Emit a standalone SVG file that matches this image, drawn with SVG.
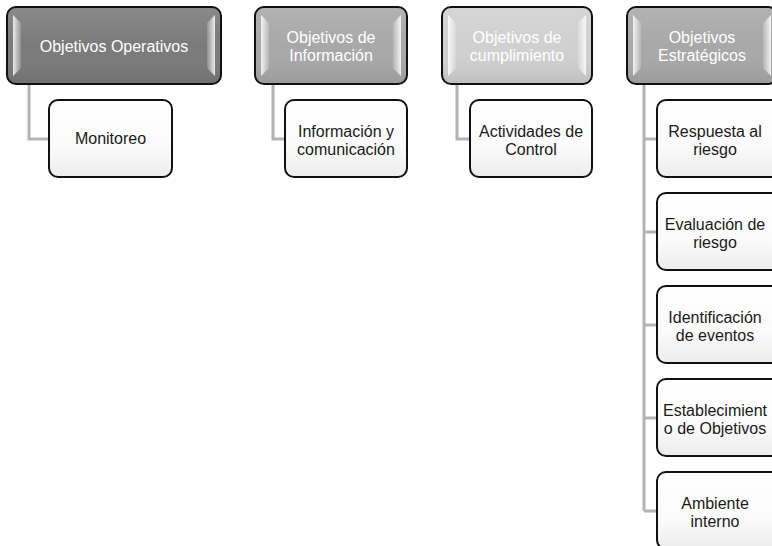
<svg xmlns="http://www.w3.org/2000/svg" width="772" height="546" viewBox="0 0 772 546">
<defs>
<linearGradient id="gTop" x1="0" y1="0" x2="0" y2="1">
<stop offset="0" stop-color="#fff" stop-opacity="0.12"/>
<stop offset="0.5" stop-color="#fff" stop-opacity="0"/>
<stop offset="1" stop-color="#000" stop-opacity="0.08"/>
</linearGradient>
<linearGradient id="gBevL" x1="0" y1="0" x2="1" y2="0">
<stop offset="0" stop-color="#fff" stop-opacity="0.85"/>
<stop offset="1" stop-color="#fff" stop-opacity="0.15"/>
</linearGradient>
<linearGradient id="gBevR" x1="1" y1="0" x2="0" y2="0">
<stop offset="0" stop-color="#fff" stop-opacity="0.85"/>
<stop offset="1" stop-color="#fff" stop-opacity="0.15"/>
</linearGradient>
<linearGradient id="gChild" x1="0" y1="0" x2="0" y2="1">
<stop offset="0" stop-color="#ffffff"/>
<stop offset="0.6" stop-color="#fbfbfb"/>
<stop offset="1" stop-color="#ececec"/>
</linearGradient>
</defs>
<style>
.top{stroke:#111;stroke-width:2}
.child{fill:url(#gChild);stroke:#111;stroke-width:2}
.tt{font-family:"Liberation Sans",Arial,sans-serif;font-size:16px;fill:#fff;text-anchor:middle}
.ct{font-family:"Liberation Sans",Arial,sans-serif;font-size:16px;fill:#1a1a1a;text-anchor:middle}
.con{fill:none;stroke:#b3b3b3;stroke-width:3}
</style>
<g id="connectors">
<path class="con" d="M29 84 V139 H49"/>
<path class="con" d="M273 84 V139 H285"/>
<path class="con" d="M457 84 V139 H470"/>
<path class="con" d="M644 84 V511 M644 139 H657 M644 232 H657 M644 325 H657 M644 418 H657 M644 511 H657"/>
</g>
<g id="top1">
<rect class="top" x="7" y="7" width="214" height="77" rx="9" fill="#7a7a7a"/>
<rect x="8" y="8" width="212" height="75" rx="8" fill="url(#gTop)"/>
<path d="M13 15 L21 23 V68 L13 76 Z" fill="url(#gBevL)"/>
<path d="M215 15 L207 23 V68 L215 76 Z" fill="url(#gBevR)"/>
<text class="tt" x="114" y="52">Objetivos Operativos</text>
</g>
<g id="top2">
<rect class="top" x="255" y="7" width="152" height="77" rx="9" fill="#a8a8a8"/>
<rect x="256" y="8" width="150" height="75" rx="8" fill="url(#gTop)"/>
<path d="M261 15 L269 23 V68 L261 76 Z" fill="url(#gBevL)"/>
<path d="M401 15 L393 23 V68 L401 76 Z" fill="url(#gBevR)"/>
<text class="tt" x="331" y="43">Objetivos de</text>
<text class="tt" x="331" y="61">Información</text>
</g>
<g id="top3">
<rect class="top" x="442" y="7" width="150" height="77" rx="9" fill="#d0d0d0"/>
<rect x="443" y="8" width="148" height="75" rx="8" fill="url(#gTop)"/>
<path d="M448 15 L456 23 V68 L448 76 Z" fill="url(#gBevL)"/>
<path d="M586 15 L578 23 V68 L586 76 Z" fill="url(#gBevR)"/>
<text class="tt" x="517" y="43">Objetivos de</text>
<text class="tt" x="517" y="61">cumplimiento</text>
</g>
<g id="top4">
<rect class="top" x="627" y="7" width="150" height="77" rx="9" fill="#a8a8a8"/>
<rect x="628" y="8" width="148" height="75" rx="8" fill="url(#gTop)"/>
<path d="M633 15 L641 23 V68 L633 76 Z" fill="url(#gBevL)"/>
<path d="M771 15 L763 23 V68 L771 76 Z" fill="url(#gBevR)"/>
<text class="tt" x="702" y="43">Objetivos</text>
<text class="tt" x="702" y="61">Estratégicos</text>
</g>
<g id="monitoreo">
<rect class="child" x="49" y="100" width="123" height="77" rx="9"/>
<text class="ct" x="110.5" y="144">Monitoreo</text>
</g>
<g id="informacion">
<rect class="child" x="285" y="100" width="122" height="77" rx="9"/>
<text class="ct" x="346" y="137">Información y</text>
<text class="ct" x="346" y="155">comunicación</text>
</g>
<g id="actividades">
<rect class="child" x="470" y="100" width="122" height="77" rx="9"/>
<text class="ct" x="531" y="137">Actividades de</text>
<text class="ct" x="531" y="155">Control</text>
</g>
<g id="respuesta">
<rect class="child" x="657" y="100" width="123" height="77" rx="9"/>
<text class="ct" x="715" y="137">Respuesta al</text>
<text class="ct" x="715" y="155">riesgo</text>
</g>
<g id="evaluacion">
<rect class="child" x="657" y="193" width="123" height="77" rx="9"/>
<text class="ct" x="715" y="230">Evaluación de</text>
<text class="ct" x="715" y="248">riesgo</text>
</g>
<g id="identificacion">
<rect class="child" x="657" y="286" width="123" height="77" rx="9"/>
<text class="ct" x="715" y="323">Identificación</text>
<text class="ct" x="715" y="341">de eventos</text>
</g>
<g id="establecimiento">
<rect class="child" x="657" y="379" width="123" height="77" rx="9"/>
<text class="ct" x="715" y="416">Establecimient</text>
<text class="ct" x="715" y="434">o de Objetivos</text>
</g>
<g id="ambiente">
<rect class="child" x="657" y="472" width="123" height="77" rx="9"/>
<text class="ct" x="715" y="509">Ambiente</text>
<text class="ct" x="715" y="527">interno</text>
</g>
</svg>
